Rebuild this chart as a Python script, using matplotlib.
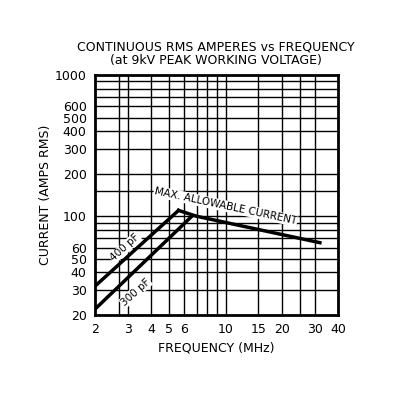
import matplotlib
matplotlib.use("Agg")
import matplotlib.pyplot as plt

f400 = [2, 5.6]
a400 = [32, 110]
f300 = [2, 6.6]
a300 = [22, 100]
fmax = [5.6, 7, 32]
amax = [110, 100, 65]
xticks = [2, 3, 4, 5, 6, 10, 15, 20, 30, 40]
yticks = [20, 30, 40, 50, 60, 100, 200, 300, 400, 500, 600, 1000]
xgrid = [2.7, 3, 4, 5, 6, 7, 8, 9, 10, 15, 20, 25, 30]
ygrid = [30, 40, 50, 60, 70, 80, 90, 100, 150, 200, 300, 400, 500, 600, 700, 800, 900]

fig = plt.figure(figsize=(4, 4), dpi=100)
ax = fig.add_axes([0.2375, 0.2125, 0.6075, 0.6])
ax.set_xscale('log'); ax.set_yscale('log')
ax.set_xlim(2, 40); ax.set_ylim(20, 1000)
for x in xgrid:
    ax.axvline(x, color='black', lw=1.0)
for y in ygrid:
    ax.axhline(y, color='black', lw=1.0)
ax.plot(f400, a400, color='black', lw=2.5)
ax.plot(f300, a300, color='black', lw=2.5)
ax.plot(fmax, amax, color='black', lw=2.5)
ax.set_xticks(xticks); ax.set_xticklabels([str(v) for v in xticks])
ax.set_yticks(yticks); ax.set_yticklabels([str(v) for v in yticks])
ax.minorticks_off()
ax.tick_params(length=0, labelsize=9, pad=6)
for s in ax.spines.values():
    s.set_linewidth(2)
ax.text(2.9, 60, '400 pF', rotation=42, fontsize=7.5, ha='center', va='center',
        bbox=dict(fc='white', ec='none', pad=0.5))
ax.text(3.3, 29, '300 pF', rotation=42, fontsize=7.5, ha='center', va='center',
        bbox=dict(fc='white', ec='none', pad=0.5))
ax.text(10, 118, 'MAX. ALLOWABLE CURRENT', rotation=-12, fontsize=7.5, ha='center', va='center',
        bbox=dict(fc='white', ec='none', pad=0.5))
ax.set_xlabel('FREQUENCY (MHz)', fontsize=9)
ax.set_ylabel('CURRENT (AMPS RMS)', fontsize=9, labelpad=2)
fig.text(0.54, 0.875, 'CONTINUOUS RMS AMPERES vs FREQUENCY', ha='center', fontsize=9)
fig.text(0.54, 0.84, '(at 9kV PEAK WORKING VOLTAGE)', ha='center', fontsize=9)
fig.savefig('out.png', dpi=100)
